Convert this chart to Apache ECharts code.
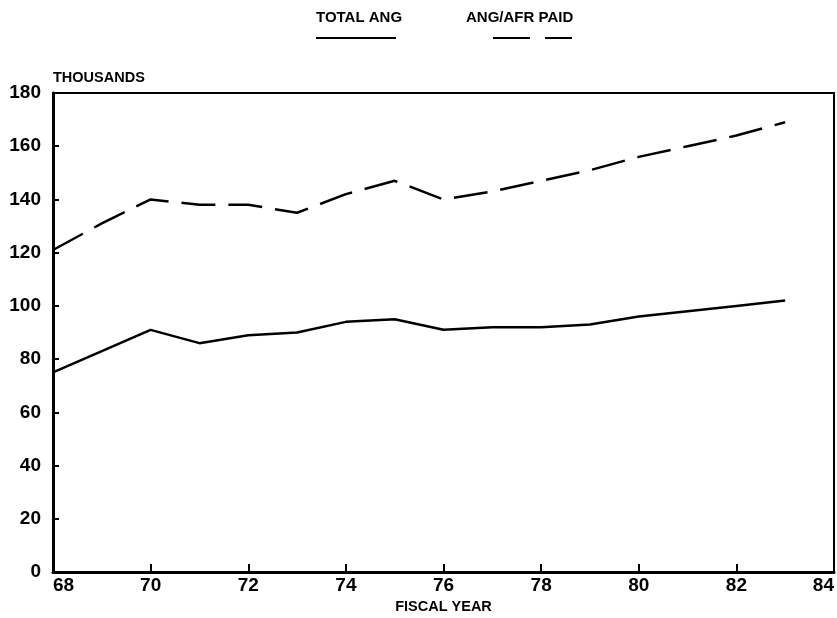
<!DOCTYPE html>
<html>
<head>
<meta charset="utf-8">
<script src="https://cdn.jsdelivr.net/npm/echarts@6/dist/echarts.min.js"></script>
<style>
html,body{margin:0;padding:0;background:#fff;}
#chart{width:837px;height:618px;}
</style>
</head>
<body>
<div id="chart"></div>
<script>
const years = [68, 69, 70, 71, 72, 73, 74, 75, 76, 77, 78, 79, 80, 81, 82, 83];
const totalAng = [75, 83, 91, 86, 89, 90, 94, 95, 91, 92, 92, 93, 96, 98, 100, 102];
const angAfrPaid = [121, 131, 140, 138, 138, 135, 142, 147, 140, 143, 147, 151, 156, 160, 164, 169];
const seriesNames = ['TOTAL ANG', 'ANG/AFR PAID'];
const yTickLabels = ['0', '20', '40', '60', '80', '100', '120', '140', '160', '180'];
const xTickLabels = ['68', '70', '72', '74', '76', '78', '80', '82', '84'];

const FONT = '"Liberation Sans", Arial, sans-serif';
const chart = echarts.init(document.getElementById('chart'), null, {renderer: 'canvas'});

const pairs = arr => years.map((y, i) => [y, arr[i]]);

chart.setOption({
  animation: false,
  backgroundColor: '#fff',
  grid: {
    left: 53, right: 3, top: 93, bottom: 46,
    containLabel: false, outerBoundsMode: 'none',
    show: true, borderColor: '#000', borderWidth: 2, backgroundColor: 'transparent'
  },
  xAxis: {
    type: 'value', min: 68, max: 84, interval: 2,
    name: 'FISCAL YEAR', nameLocation: 'middle', nameGap: 27, nameMoveOverlap: false,
    nameTextStyle: {color: '#000', fontFamily: FONT, fontWeight: 'bold', fontSize: 14.5, verticalAlign: 'top'},
    axisLine: {show: true, onZero: false, lineStyle: {color: '#000', width: 3}},
    axisTick: {show: true, inside: true, length: 8, lineStyle: {color: '#000', width: 2}},
    splitLine: {show: false},
    axisLabel: {
      color: '#000', fontFamily: FONT, fontWeight: 'bold', fontSize: 19, margin: 4,
      alignMinLabel: 'left', alignMaxLabel: 'right',
      formatter: v => xTickLabels[Math.round((v - 68) / 2)]
    }
  },
  yAxis: {
    type: 'value', min: 0, max: 180, interval: 20,
    name: 'THOUSANDS', nameLocation: 'end', nameGap: 8,
    nameTextStyle: {color: '#000', fontFamily: FONT, fontWeight: 'bold', fontSize: 14.5, align: 'left', verticalAlign: 'bottom'},
    axisLine: {show: true, lineStyle: {color: '#000', width: 3}},
    axisTick: {show: true, inside: true, length: 6, lineStyle: {color: '#000', width: 2}},
    splitLine: {show: false},
    axisLabel: {
      color: '#000', fontFamily: FONT, fontWeight: 'bold', fontSize: 19, margin: 12,
      formatter: v => yTickLabels[Math.round(v / 20)]
    }
  },
  graphic: [
    {type: 'text', left: 316, top: 10, style: {text: seriesNames[0], fill: '#000', font: 'bold 15px ' + FONT}},
    {type: 'line', shape: {x1: 316, y1: 38, x2: 396, y2: 38}, style: {stroke: '#000', lineWidth: 2}},
    {type: 'text', left: 466, top: 10, style: {text: seriesNames[1], fill: '#000', font: 'bold 15px ' + FONT}},
    {type: 'line', shape: {x1: 493, y1: 38, x2: 530, y2: 38}, style: {stroke: '#000', lineWidth: 2}},
    {type: 'line', shape: {x1: 545, y1: 38, x2: 572, y2: 38}, style: {stroke: '#000', lineWidth: 2}}
  ],
  series: [
    {
      name: seriesNames[0], type: 'line', data: pairs(totalAng),
      showSymbol: false, symbol: 'none',
      lineStyle: {color: '#000', width: 2.5}
    },
    {
      name: seriesNames[1], type: 'line', data: pairs(angAfrPaid),
      showSymbol: false, symbol: 'none',
      lineStyle: {color: '#000', width: 2.5, type: [34, 13]}
    }
  ]
});
</script>
</body>
</html>
